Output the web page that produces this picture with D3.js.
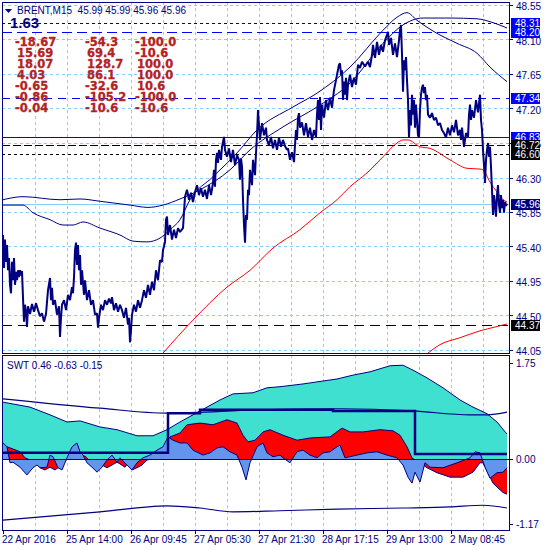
<!DOCTYPE html>
<html>
<head>
<meta charset="utf-8">
<script src="https://cdn.jsdelivr.net/npm/d3@7"></script>
<style>
  body { margin: 0; background: #fff; }
  text { font-family: 'Liberation Sans', Arial, sans-serif; }
</style>
</head>
<body>
<svg width="550" height="550"></svg>
<script>
// ---- data (x = bar index, 0 = 22 Apr 2016) ----
var priceTicks = [44.05, 44.50, 44.95, 45.40, 45.85, 46.30, 46.75, 47.20, 47.65, 48.10, 48.55];
var swtTicks = [1.75, 0.00, -1.17];
var timeTickIdx = [0, 64, 128, 192, 256, 320, 384, 448];
var timeTickLabels = ["22 Apr 2016", "25 Apr 14:00", "26 Apr 09:45", "27 Apr 05:30",
                      "27 Apr 21:30", "28 Apr 17:15", "29 Apr 13:00", "2 May 08:45"];
var gridIdx = [32, 64, 96, 128, 160, 192, 224, 256, 288, 320, 352, 384, 416, 448, 480];

// price path [bar, price]
var priceSeries = [
  [0,45.55],[1,45.12],[2,45.49],[3,45.20],[4,45.42],[5,45.09],[6,45.25],[7,44.90],[8,44.79],[9,45.20],
  [10,44.96],[11,45.25],[12,44.90],[13,45.07],[14,44.96],[15,45.09],[16,45.00],[17,45.09],[18,45.02],[19,45.08],
  [20,44.73],[21,44.42],[22,44.64],[23,44.55],[24,44.35],[25,44.62],[27,44.52],[29,44.65],[31,44.55],[33,44.66],
  [35,44.57],[37,44.49],[39,44.53],[41,44.42],[43,44.52],[45,44.83],[47,44.99],[48,44.70],[49,44.86],[50,44.64],
  [52,44.70],[54,44.51],[56,44.62],[57,44.22],[58,44.47],[59,44.64],[61,44.70],[63,44.57],[65,44.77],[67,44.70],
  [69,44.87],[70,44.79],[71,45.00],[72,45.35],[73,45.45],[74,45.16],[75,45.42],[76,45.09],[77,45.29],[78,44.90],
  [79,45.09],[81,44.77],[82,44.96],[84,44.70],[86,44.83],[88,44.64],[90,44.70],[92,44.51],[94,44.53],[95,44.34],
  [96,44.47],[98,44.64],[100,44.57],[102,44.70],[104,44.64],[106,44.72],[108,44.66],[109,44.74],[111,44.57],[113,44.66],
  [115,44.55],[117,44.64],[119,44.57],[121,44.47],[123,44.60],[125,44.38],[126,44.47],[127,44.15],[128,44.31],[129,44.51],
  [131,44.64],[133,44.55],[135,44.70],[137,44.60],[139,44.70],[141,44.83],[143,44.73],[145,44.90],[147,44.77],[149,44.94],
  [151,44.83],[153,45.09],[155,44.96],[157,45.22],[159,45.20],[160,45.35],[162,45.46],[163,45.75],[164,45.79],[165,45.55],
  [167,45.68],[169,45.49],[171,45.62],[173,45.51],[175,45.64],[177,45.59],[180,45.64],[182,46.05],[184,46.14],[186,46.01],
  [188,46.10],[190,45.98],[192,46.11],[194,46.20],[196,46.07],[198,46.16],[200,46.05],[202,46.14],[204,46.02],[206,46.20],
  [208,46.07],[210,46.23],[211,46.40],[212,46.18],[213,46.53],[214,46.62],[215,46.49],[216,46.66],[218,46.53],[219,46.70],
  [221,46.83],[222,46.66],[224,46.57],[226,46.68],[228,46.50],[230,46.66],[232,46.46],[234,46.59],[236,46.53],[237,46.27],
  [238,46.55],[239,46.44],[240,46.01],[241,45.68],[242,45.45],[243,45.81],[244,45.75],[245,46.14],[246,46.07],[247,46.40],
  [249,46.20],[250,46.53],[252,46.33],[253,46.62],[254,46.85],[255,47.18],[256,46.98],[257,46.79],[259,47.01],[261,46.85],
  [263,46.95],[264,46.79],[266,46.72],[268,46.83],[270,46.68],[272,46.79],[274,46.66],[276,46.82],[278,46.70],[280,46.79],
  [282,46.71],[284,46.66],[285,46.68],[287,46.53],[289,46.63],[291,46.50],[292,46.72],[293,46.92],[294,46.79],[295,47.08],
  [296,47.14],[297,46.95],[299,47.02],[301,46.85],[303,47.01],[305,46.83],[307,46.95],[309,46.79],[311,46.92],[313,46.83],
  [314,47.12],[315,47.31],[316,47.05],[317,47.35],[318,46.92],[319,47.25],[321,47.08],[323,47.31],[325,47.18],[327,47.34],
  [329,47.21],[331,47.44],[333,47.57],[334,47.64],[336,47.77],[337,47.79],[338,47.64],[339,47.70],[340,47.31],[341,47.55],
  [342,47.38],[343,47.60],[344,47.31],[345,47.51],[347,47.64],[349,47.48],[351,47.60],[353,47.51],[355,47.77],[357,47.73],
  [359,47.81],[362,47.75],[365,47.81],[367,47.74],[369,47.90],[370,48.03],[372,47.86],[374,48.07],[376,47.90],[378,48.03],
  [380,47.94],[382,48.09],[384,48.16],[385,48.20],[386,48.03],[388,48.12],[390,47.90],[392,48.05],[394,47.87],[396,48.09],
  [397,48.22],[398,48.29],[399,47.90],[400,47.42],[401,47.83],[402,47.70],[403,47.87],[404,47.57],[405,47.31],[406,46.82],
  [407,47.18],[408,46.98],[409,47.38],[410,47.12],[411,47.31],[412,46.95],[413,47.25],[414,47.05],[415,46.85],[416,46.82],
  [417,47.18],[418,47.38],[419,47.47],[420,47.51],[421,47.40],[422,47.48],[423,47.31],[424,47.38],[425,47.12],[427,47.08],
  [429,47.14],[431,47.05],[433,47.08],[435,46.98],[437,47.01],[439,46.92],[441,46.88],[443,46.82],[445,46.95],[447,46.85],
  [449,46.98],[451,46.89],[453,47.05],[455,46.85],[457,46.92],[458,46.79],[459,46.95],[461,46.70],[463,46.88],[465,46.83],
  [466,47.12],[467,47.25],[468,47.05],[469,47.18],[471,47.08],[473,47.31],[475,47.15],[477,47.38],[478,47.05],[479,46.92],
  [480,46.66],[481,46.46],[482,46.23],[483,46.53],[484,46.66],[485,46.75],[486,46.57],[487,46.70],[488,46.44],[489,46.14],
  [490,45.81],[491,46.07],[492,45.94],[493,45.79],[494,46.07],[495,46.20],[496,45.94],[497,45.84],[498,46.07],[499,45.90],
  [500,46.01],[501,45.84],[502,45.98],[503,45.93],[504,45.96]
];

var bandA = [[0,46.01],[20,46.05],[57,46.01],[77,46.02],[97,45.99],[127,45.94],[145,45.91],[160,45.94],[177,46.02],
  [197,46.14],[227,46.40],[247,46.66],[280,46.96],[314,47.22],[347,47.53],[380,48.05],[400,48.29],[420,48.38],
  [447,48.38],[474,48.37],[490,48.32],[504,48.25]];
var bandB = [[0,45.94],[20,45.94],[30,45.84],[47,45.75],[60,45.68],[70,45.68],[80,45.72],[97,45.64],[117,45.55],
  [130,45.47],[144,45.46],[157,45.51],[167,45.62],[177,45.75],[187,46.01],[210,46.31],[234,46.62],[254,46.92],
  [290,47.22],[314,47.40],[347,47.74],[380,48.22],[394,48.39],[404,48.45],[414,48.35],[434,48.18],[454,48.05],
  [474,47.92],[487,47.74],[504,47.55]];
var maFast = [[160,44.01],[190,44.44],[224,44.87],[247,45.09],[270,45.38],[297,45.62],[317,45.84],[334,46.01],
  [347,46.18],[364,46.36],[380,46.57],[394,46.75],[400,46.79],[405,46.79],[417,46.70],[427,46.68],[447,46.53],
  [464,46.42],[477,46.41],[480,46.40],[487,46.24],[494,46.11],[500,46.01],[504,45.98]];
var maSlow = [[425,44.01],[437,44.12],[457,44.21],[477,44.30],[492,44.35],[504,44.39]];

var levelPrices = [48.31, 48.20, 47.34, 46.83, 46.72, 46.60, 44.37];
var bidPrice = 45.96;

// SWT indicator
var swtCyan = [[0,1.04],[27,0.95],[47,0.81],[64,0.68],[77,0.70],[97,0.59],[114,0.54],[134,0.43],[150,0.43],
  [164,0.54],[177,0.68],[190,0.81],[204,0.95],[217,1.08],[230,1.19],[250,1.21],[264,1.30],[277,1.32],[300,1.37],
  [334,1.46],[350,1.53],[367,1.59],[387,1.70],[400,1.71],[410,1.62],[424,1.48],[440,1.30],[457,1.08],[470,0.95],
  [484,0.83],[494,0.68],[504,0.46]];
var swtRed = [[0,0.17],[4,0.23],[10,0.19],[17,0.14],[22,0.03],[27,-0.01],[34,-0.06],[37,-0.15],[42,-0.19],[47,-0.14],
  [52,-0.19],[55,-0.15],[59,-0.06],[64,0.00],[72,0.03],[77,0.08],[82,0.06],[87,-0.03],[94,-0.01],[99,-0.10],
  [104,-0.15],[109,-0.10],[114,-0.05],[117,-0.08],[122,-0.14],[125,-0.06],[129,-0.19],[134,-0.15],[139,-0.10],
  [144,-0.01],[152,0.03],[160,0.14],[165,0.35],[167,0.41],[177,0.48],[184,0.63],[197,0.66],[210,0.63],[224,0.72],
  [234,0.66],[240,0.44],[245,0.32],[252,0.35],[260,0.50],[267,0.54],[280,0.44],[294,0.35],[307,0.39],[327,0.41],
  [339,0.57],[347,0.50],[360,0.50],[377,0.54],[390,0.52],[397,0.44],[404,0.23],[409,0.03],[412,-0.01],[417,-0.06],
  [424,-0.15],[434,-0.24],[447,-0.32],[460,-0.32],[470,-0.23],[477,-0.06],[480,-0.06],[485,-0.24],[490,-0.43],
  [500,-0.60],[504,-0.63]];
var swtBlue = [[0,0.30],[4,0.23],[7,-0.06],[10,-0.05],[17,-0.14],[24,-0.28],[30,-0.15],[34,-0.10],[37,-0.15],
  [44,-0.14],[47,0.08],[50,0.05],[55,-0.15],[59,-0.19],[64,0.03],[69,0.23],[74,0.30],[77,0.14],[80,0.08],[84,-0.06],
  [89,-0.14],[94,-0.23],[99,-0.14],[104,-0.01],[109,0.08],[114,-0.05],[117,0.03],[124,-0.10],[129,-0.19],[134,-0.06],
  [140,0.03],[147,0.08],[154,0.17],[160,0.23],[165,0.41],[170,0.35],[177,0.30],[184,0.30],[190,0.17],[200,0.08],
  [207,0.12],[214,0.21],[220,0.23],[227,0.14],[234,0.08],[239,-0.14],[243,-0.37],[247,-0.06],[254,0.23],[260,0.30],
  [264,0.12],[270,0.05],[277,0.08],[280,0.03],[287,-0.06],[294,0.14],[300,0.17],[307,0.08],[314,0.03],[320,0.12],
  [327,0.14],[334,0.23],[337,0.26],[342,0.03],[354,0.08],[364,0.12],[374,0.14],[384,0.08],[394,0.03],[400,-0.10],
  [405,-0.32],[409,-0.43],[412,-0.23],[417,-0.41],[422,-0.06],[427,-0.14],[440,-0.15],[454,-0.06],[467,0.03],
  [472,0.14],[477,0.12],[482,-0.14],[487,-0.34],[494,-0.24],[500,-0.23],[504,-0.15]];
var swtUpper = [[0,1.10],[97,0.93],[164,0.84],[257,0.90],[337,0.92],[410,0.88],[467,0.81],[484,0.81],[504,0.86]];
var swtLower = [[0,-1.10],[97,-0.95],[164,-0.84],[197,-0.88],[230,-0.95],[277,-0.93],[334,-0.90],[400,-0.88],
  [447,-0.86],[480,-0.83],[504,-0.88]];
var swtSignal = [[0,0.12],[165,0.84],[197,0.90],[330,0.88],[412,0.10],[504,0.10]];

var statsCol1 = ["-18.67", "15.69", "18.07", "4.03", "-0.65", "-0.86", "-0.04"];
var statsCol2 = ["-54.3", "69.4", "128.7", "86.1", "-32.6", "-105.2", "-10.6"];
var statsCol3 = ["-100.0", "-10.6", "100.0", "100.0", "10.6", "-100.0", "-10.6"];

// ---- drawing ----
var NAVY = "#000080", GRID = "#87CEFA";
var svg = d3.select("svg");

var x = d3.scaleLinear().domain([0, 506]).range([3, 509]);
var yP = d3.scaleLinear().domain([44.05, 48.55]).range([350, 5]);
var yI = d3.scaleLinear().domain([-1.17, 1.75]).range([524, 363]);
function px(v) { return Math.round(v) + 0.5; }

svg.append("rect").attr("width", 550).attr("height", 550).attr("fill", "#fff");

var defs = svg.append("defs");
defs.append("clipPath").attr("id", "clipMain").append("rect")
    .attr("x", 2).attr("y", 2).attr("width", 507).attr("height", 351);
defs.append("clipPath").attr("id", "clipInd").append("rect")
    .attr("x", 2).attr("y", 355).attr("width", 507).attr("height", 175);

var main = svg.append("g").attr("clip-path", "url(#clipMain)");
var ind = svg.append("g").attr("clip-path", "url(#clipInd)");

// grid
main.selectAll(".hgrid").data(priceTicks).join("line")
    .attr("x1", 2).attr("x2", 509)
    .attr("y1", function(d) { return px(yP(d)); })
    .attr("y2", function(d) { return px(yP(d)); })
    .attr("stroke", GRID).attr("stroke-dasharray", "3,3").attr("shape-rendering", "crispEdges");
[[main, 2, 353], [ind, 355, 530]].forEach(function(p) {
    p[0].selectAll(".vgrid").data(gridIdx).join("line")
        .attr("x1", function(d) { return px(x(d)); })
        .attr("x2", function(d) { return px(x(d)); })
        .attr("y1", p[1]).attr("y2", p[2])
        .attr("stroke", GRID).attr("stroke-dasharray", "3,3").attr("shape-rendering", "crispEdges");
});

// horizontal level lines
var levelStyle = [
    { stroke: NAVY, dash: "3,3", box: "#0000FF" },
    { stroke: "#0000FF", dash: "10,5", box: "#0000FF" },
    { stroke: "#0000FF", dash: "8,6", box: "#0000FF" },
    { stroke: "#0000FF", dash: null, box: "#0000FF" },
    { stroke: "#000", dash: "8,3", box: "#000" },
    { stroke: "#000", dash: "3,3", box: "#000" },
    { stroke: "#000", dash: "10,6", box: "#000" }
];
main.selectAll(".level").data(levelPrices).join("line")
    .attr("x1", 2).attr("x2", 509)
    .attr("y1", function(d) { return px(yP(d)); })
    .attr("y2", function(d) { return px(yP(d)); })
    .attr("stroke", function(d, i) { return levelStyle[i].stroke; })
    .attr("stroke-dasharray", function(d, i) { return levelStyle[i].dash; })
    .attr("shape-rendering", "crispEdges");
main.append("line")
    .attr("x1", 2).attr("x2", 509)
    .attr("y1", px(yP(bidPrice))).attr("y2", px(yP(bidPrice)))
    .attr("stroke", GRID).attr("shape-rendering", "crispEdges");

var pLine = d3.line().x(function(d) { return x(d[0]); }).y(function(d) { return yP(d[1]); });

[bandA, bandB].forEach(function(b) {
    main.append("path").datum(b).attr("d", pLine.curve(d3.curveMonotoneX))
        .attr("fill", "none").attr("stroke", NAVY).attr("stroke-width", 1);
});
[maFast, maSlow].forEach(function(m) {
    main.append("path").datum(m).attr("d", pLine.curve(d3.curveMonotoneX))
        .attr("fill", "none").attr("stroke", "#FF0000").attr("stroke-width", 1);
});
main.append("path").datum(priceSeries).attr("d", pLine.curve(d3.curveLinear))
    .attr("fill", "none").attr("stroke", NAVY).attr("stroke-width", 2)
    .attr("stroke-linejoin", "bevel");

// indicator panel
var area = d3.area().x(function(d) { return x(d[0]); })
    .y0(yI(0)).y1(function(d) { return yI(d[1]); });
var iLine = d3.line().x(function(d) { return x(d[0]); }).y(function(d) { return yI(d[1]); });

[[swtCyan, "#40E0D0"], [swtRed, "#FF0000"], [swtBlue, "#6495ED"]].forEach(function(s) {
    ind.append("path").datum(s[0]).attr("d", area).attr("fill", s[1]);
    ind.append("path").datum(s[0]).attr("d", iLine).attr("fill", "none")
        .attr("stroke", NAVY).attr("stroke-width", 1);
});
ind.append("line").attr("x1", 2).attr("x2", 509)
    .attr("y1", px(yI(0))).attr("y2", px(yI(0)))
    .attr("stroke", NAVY).attr("shape-rendering", "crispEdges");
[swtUpper, swtLower].forEach(function(s) {
    ind.append("path").datum(s).attr("d", iLine.curve(d3.curveMonotoneX))
        .attr("fill", "none").attr("stroke", NAVY).attr("stroke-width", 1.2);
});
ind.append("path").datum(swtSignal).attr("d", iLine.curve(d3.curveStepAfter))
    .attr("fill", "none").attr("stroke", NAVY).attr("stroke-width", 2.5);

// frames and right axis
svg.append("rect").attr("x", 2.5).attr("y", 2.5).attr("width", 507).attr("height", 351)
    .attr("fill", "none").attr("stroke", NAVY);
svg.append("rect").attr("x", 2.5).attr("y", 355.5).attr("width", 507).attr("height", 175)
    .attr("fill", "none").attr("stroke", NAVY);

var axis = svg.append("g");
axis.selectAll(".ptick").data(priceTicks).join("line")
    .attr("x1", 509).attr("x2", 513)
    .attr("y1", function(d) { return px(yP(d)); }).attr("y2", function(d) { return px(yP(d)); })
    .attr("stroke", NAVY);
axis.selectAll(".plab").data(priceTicks).join("text")
    .attr("x", 516).attr("y", function(d) { return yP(d) + 5; })
    .attr("font-size", 10).attr("fill", NAVY)
    .text(function(d) { return d.toFixed(2); });
axis.selectAll(".itick").data(swtTicks).join("line")
    .attr("x1", 509).attr("x2", 513)
    .attr("y1", function(d) { return px(yI(d)); }).attr("y2", function(d) { return px(yI(d)); })
    .attr("stroke", NAVY);
axis.selectAll(".ilab").data(swtTicks).join("text")
    .attr("x", 516).attr("y", function(d) { return yI(d) + 4; })
    .attr("font-size", 10).attr("fill", NAVY)
    .text(function(d) { return d.toFixed(2); });

// time axis
axis.selectAll(".ttick").data(timeTickIdx).join("line")
    .attr("x1", function(d) { return px(x(d)); }).attr("x2", function(d) { return px(x(d)); })
    .attr("y1", 530).attr("y2", 534).attr("stroke", NAVY);
axis.selectAll(".tlab").data(timeTickIdx).join("text")
    .attr("x", function(d) { return x(d) - 1; }).attr("y", 543)
    .attr("font-size", 10).attr("fill", NAVY)
    .text(function(d, i) { return timeTickLabels[i]; });

// price marker boxes on the right axis
function marker(v, fill) {
    var y = yP(v);
    axis.append("rect").attr("x", 511).attr("y", Math.round(y) - 5).attr("width", 29).attr("height", 11)
        .attr("fill", fill);
    axis.append("text").attr("x", 515).attr("y", Math.round(y) + 4)
        .attr("font-size", 10).attr("fill", "#fff").text(v.toFixed(2));
}
levelPrices.forEach(function(v, i) { marker(v, levelStyle[i].box); });
marker(bidPrice, NAVY);

// header texts
svg.append("path").attr("d", "M5,9 L12,9 L8.5,13 Z").attr("fill", NAVY);
svg.append("text").attr("x", 17).attr("y", 14).attr("font-size", 10).attr("fill", NAVY)
    .attr("xml:space", "preserve").text("BRENT,M15  45.99 45.99 45.96 45.96");
svg.append("text").attr("x", 10).attr("y", 28).attr("font-size", 15).attr("font-weight", "bold")
    .attr("fill", NAVY).text("1.63");
svg.append("text").attr("x", 7).attr("y", 369).attr("font-size", 10).attr("fill", NAVY)
    .text("SWT 0.46 -0.63 -0.15");

var stats = svg.append("g");
[[statsCol1, 15], [statsCol2, 85], [statsCol3, 135]].forEach(function(c) {
    stats.selectAll(null).data(c[0]).join("text")
        .style("font-family", "'DejaVu Sans', Verdana, sans-serif")
        .style("font-size", "11.5px").style("font-weight", "bold")
        .attr("fill", "#B22222").attr("stroke", "#B22222").attr("stroke-width", 0.3)
        .attr("x", function(d) { return c[1] + (d.charAt(0) === "-" ? 0 : 2); })
        .attr("y", function(d, i) { return 46 + i * 11; })
        .text(function(d) { return d; });
});
</script>
</body>
</html>
